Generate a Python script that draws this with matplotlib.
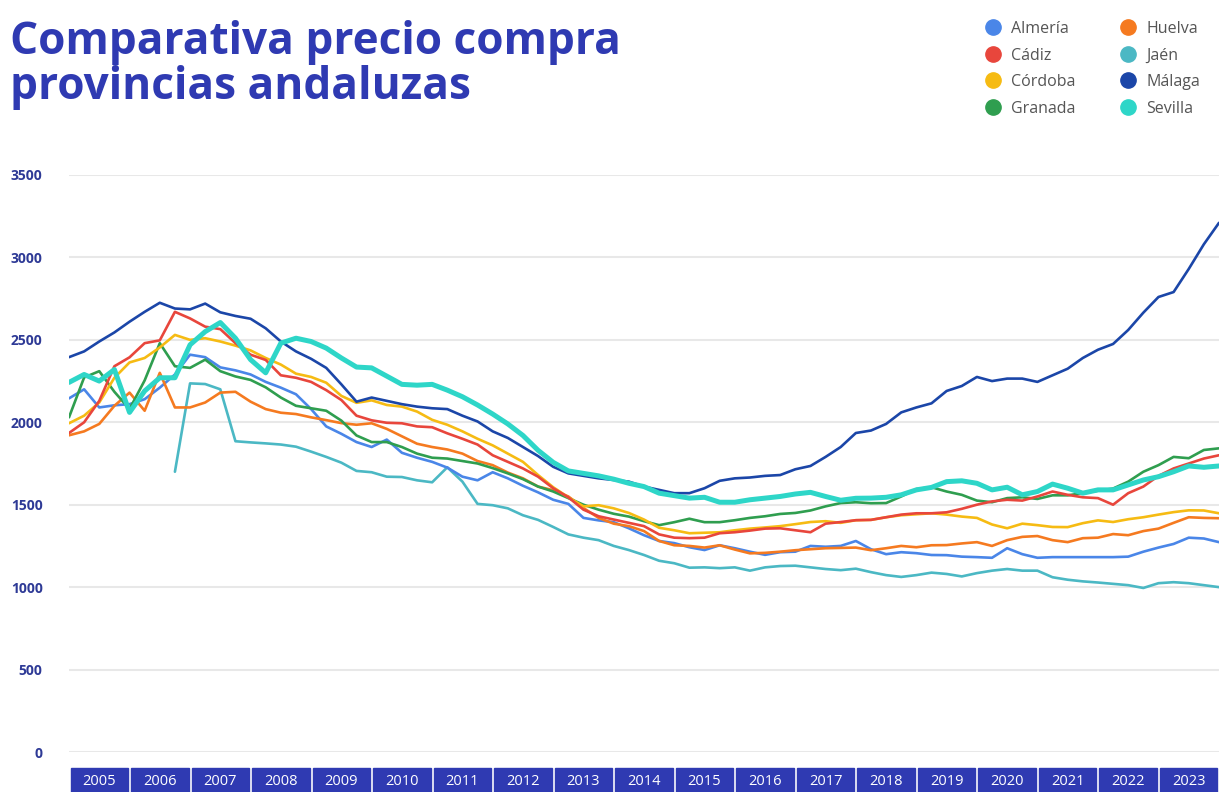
import matplotlib
matplotlib.use("Agg")
import matplotlib.pyplot as plt
from matplotlib.patches import Rectangle
from matplotlib.lines import Line2D
import numpy as np
import pandas as pd

plt.rcParams['font.family'] = ['Open Sans', 'DejaVu Sans']

# quarterly observations, Jan 2005 .. Jan 2024
dates = pd.date_range('2005-01-01', periods=77, freq='QS')
t = dates.year + (dates.month - 1) / 12

almeria = [2145, 2200, 2090, 2103, 2110, 2140, 2210, 2290, 2410, 2395, 2333, 2315, 2290, 2245, 2210, 2170,
           2080, 1975, 1930, 1880, 1850, 1895, 1815, 1785, 1760, 1725, 1670, 1648, 1697, 1660, 1615, 1575,
           1530, 1505, 1420, 1405, 1394, 1357, 1315, 1280, 1267, 1242, 1225, 1254, 1236, 1215, 1196, 1212,
           1215, 1250, 1245, 1250, 1280, 1230, 1200, 1212, 1206, 1195, 1194, 1185, 1182, 1178, 1236, 1200,
           1178, 1182, 1182, 1182, 1182, 1182, 1185, 1215, 1240, 1262, 1300, 1295, 1273]
cadiz = [1935, 2000, 2130, 2340, 2394, 2480, 2497, 2670, 2630, 2580, 2565, 2480, 2410, 2378, 2285, 2270,
         2245, 2195, 2135, 2040, 2012, 1997, 1994, 1975, 1970, 1933, 1900, 1865, 1800, 1760, 1720, 1670,
         1600, 1545, 1470, 1430, 1410, 1390, 1370, 1320, 1300, 1297, 1300, 1327, 1333, 1343, 1355, 1357,
         1345, 1333, 1385, 1395, 1406, 1408, 1424, 1440, 1448, 1448, 1454, 1475, 1500, 1520, 1530, 1525,
         1550, 1580, 1560, 1545, 1540, 1500, 1570, 1610, 1675, 1720, 1750, 1780, 1800]
cordoba = [1994, 2040, 2120, 2270, 2363, 2390, 2454, 2530, 2500, 2510, 2490, 2465, 2436, 2390, 2350, 2295,
           2275, 2240, 2160, 2118, 2133, 2105, 2095, 2065, 2015, 1985, 1945, 1900, 1860, 1810, 1760, 1680,
           1606, 1545, 1490, 1497, 1478, 1450, 1410, 1360, 1345, 1327, 1330, 1333, 1345, 1355, 1362, 1370,
           1382, 1395, 1400, 1390, 1406, 1408, 1424, 1436, 1442, 1448, 1440, 1428, 1420, 1380, 1357, 1385,
           1376, 1365, 1364, 1388, 1405, 1395, 1412, 1424, 1440, 1455, 1466, 1465, 1448]
granada = [2030, 2272, 2310, 2185, 2080, 2254, 2480, 2340, 2330, 2380, 2310, 2278, 2257, 2212, 2150, 2100,
           2085, 2070, 2010, 1920, 1880, 1880, 1850, 1810, 1785, 1780, 1765, 1750, 1722, 1690, 1655, 1610,
           1580, 1540, 1500, 1470, 1445, 1428, 1400, 1376, 1394, 1415, 1394, 1394, 1406, 1420, 1430, 1444,
           1450, 1465, 1490, 1510, 1515, 1509, 1510, 1550, 1595, 1606, 1580, 1560, 1525, 1515, 1540, 1545,
           1535, 1557, 1557, 1570, 1585, 1598, 1640, 1700, 1740, 1790, 1782, 1832, 1842]
huelva = [1921, 1945, 1990, 2100, 2180, 2070, 2300, 2090, 2090, 2120, 2180, 2185, 2125, 2080, 2058, 2050,
          2030, 2013, 1995, 1985, 1994, 1960, 1915, 1870, 1850, 1835, 1810, 1765, 1740, 1695, 1660, 1610,
          1588, 1550, 1480, 1420, 1385, 1370, 1340, 1280, 1254, 1250, 1240, 1254, 1228, 1205, 1208, 1215,
          1224, 1230, 1236, 1238, 1240, 1224, 1236, 1250, 1242, 1254, 1255, 1265, 1273, 1250, 1285, 1305,
          1310, 1285, 1273, 1297, 1300, 1322, 1315, 1340, 1355, 1390, 1424, 1420, 1418]
jaen = [np.nan] * 7 + [1700, 2236, 2232, 2200, 1885, 1878, 1872, 1865, 1852,
          1822, 1790, 1755, 1705, 1697, 1670, 1668, 1648, 1636, 1727, 1640, 1505, 1497, 1478, 1436, 1408,
          1365, 1320, 1300, 1285, 1250, 1225, 1195, 1160, 1145, 1118, 1120, 1115, 1120, 1100, 1120, 1128,
          1130, 1120, 1110, 1103, 1112, 1091, 1073, 1062, 1073, 1088, 1080, 1065, 1085, 1100, 1110, 1100,
          1100, 1060, 1045, 1035, 1028, 1020, 1012, 995, 1024, 1030, 1024, 1012, 1000]
malaga = [2395, 2430, 2490, 2545, 2610, 2670, 2725, 2690, 2685, 2720, 2667, 2645, 2628, 2570, 2490, 2430,
          2385, 2330, 2230, 2125, 2150, 2130, 2110, 2095, 2085, 2080, 2040, 2005, 1945, 1905, 1850, 1795,
          1730, 1690, 1675, 1660, 1650, 1640, 1610, 1590, 1570, 1570, 1600, 1645, 1660, 1665, 1675, 1680,
          1715, 1735, 1790, 1850, 1935, 1950, 1990, 2060, 2090, 2115, 2190, 2220, 2275, 2250, 2265, 2265,
          2245, 2285, 2325, 2390, 2440, 2475, 2560, 2665, 2760, 2790, 2930, 3080, 3210]
sevilla = [2242, 2290, 2250, 2320, 2060, 2190, 2270, 2270, 2470, 2550, 2605, 2510, 2380, 2300, 2480, 2510,
           2490, 2450, 2390, 2335, 2330, 2280, 2230, 2225, 2230, 2195, 2155, 2105, 2050, 1990, 1920, 1830,
           1757, 1705, 1690, 1675, 1655, 1630, 1610, 1570, 1555, 1540, 1545, 1515, 1515, 1530, 1540, 1550,
           1565, 1575, 1550, 1527, 1539, 1540, 1545, 1560, 1590, 1605, 1640, 1645, 1630, 1590, 1606, 1560,
           1580, 1625, 1600, 1570, 1590, 1590, 1620, 1650, 1670, 1700, 1735, 1727, 1735]

provinces = ['Almería', 'Cádiz', 'Córdoba', 'Granada', 'Huelva', 'Jaén', 'Málaga', 'Sevilla']
series = [almeria, cadiz, cordoba, granada, huelva, jaen, malaga, sevilla]
colors = ['#4a86e8', '#e8463c', '#f6bb13', '#2f9e4f', '#f57a20', '#4bb8c4', '#1b46a8', '#2ed6c8']
widths = [1.9, 1.9, 1.9, 1.9, 1.9, 1.9, 1.9, 3.6]
years = list(range(2005, 2024))

navy = '#2f3ab2'

fig = plt.figure(figsize=(12.2, 7.92), dpi=100)
ax = fig.add_axes([69 / 1220, 40 / 792, 1150 / 1220, 577 / 792])

draw_order = [5, 0, 4, 3, 2, 1, 6, 7]
for i in draw_order:
    ax.plot(t, series[i], color=colors[i], lw=widths[i], solid_joinstyle='round',
            solid_capstyle='round', zorder=3 + (i == 7))

ax.set_xlim(2005, 2024)
ax.set_ylim(0, 3500)
ax.set_yticks(range(0, 3501, 500))
ax.set_xticks([])
ax.grid(True, axis='y', color='#e8e8e8', lw=1.5)
ax.set_axisbelow(True)
for s in ax.spines.values():
    s.set_visible(False)
ax.tick_params(axis='y', length=0, pad=19, labelsize=10, labelcolor='#2e3a96')
for lab in ax.get_yticklabels():
    lab.set_fontweight('bold')

# year boxes under the plot
trans = ax.get_xaxis_transform()
for y in years:
    ax.add_patch(Rectangle((y + 0.025, -0.075), 0.95, 0.047, transform=trans,
                           color=navy, clip_on=False, zorder=2))
    ax.text(y + 0.5, -0.051, str(y), transform=trans, ha='center', va='center',
            color='white', fontsize=10.5, clip_on=False)

fig.text(10 / 1220, 1 - 54 / 792, 'Comparativa precio compra', color=navy,
         fontsize=31.8, fontweight='bold', va='baseline', ha='left')
fig.text(10 / 1220, 1 - 99 / 792, 'provincias andaluzas', color=navy,
         fontsize=31.8, fontweight='bold', va='baseline', ha='left')

handles = [Line2D([], [], ls='none', marker='o', markersize=11, color=c) for c in colors]
leg = fig.legend(handles, provinces, ncol=2, loc='upper left',
                 bbox_to_anchor=(975 / 1220, 1 - 13 / 792), frameon=False,
                 fontsize=11.5, handletextpad=0.55, columnspacing=2.7,
                 labelspacing=0.66, handlelength=1.2, borderpad=0)
for txt in leg.get_texts():
    txt.set_color('#555555')

fig.savefig('out.png', dpi=100)
